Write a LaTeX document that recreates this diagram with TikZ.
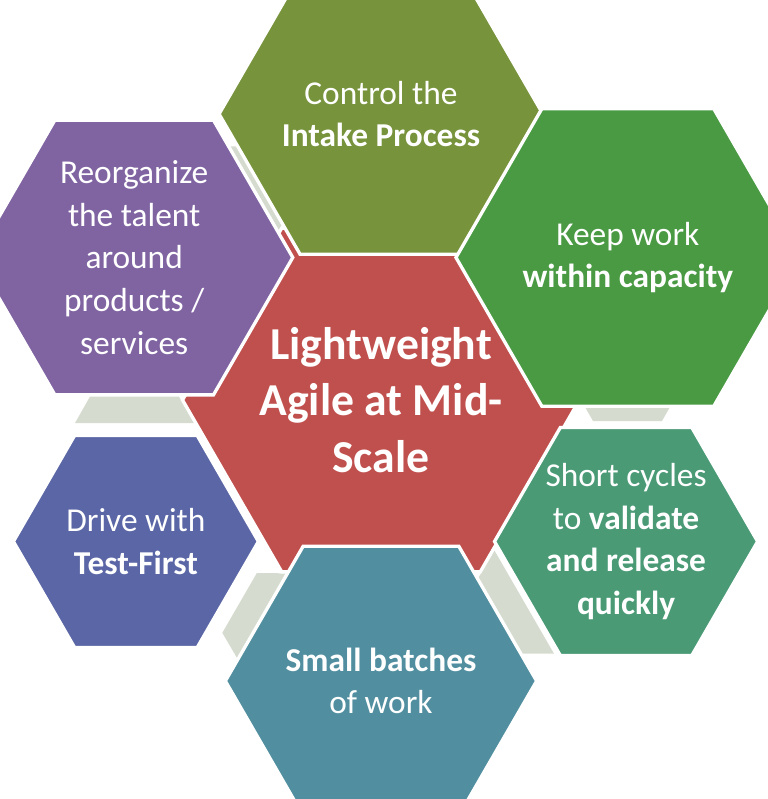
\documentclass[tikz,border=0pt]{standalone}
\usepackage{fontspec}
\setmainfont{Carlito}
\usetikzlibrary{shapes.geometric, positioning}
\definecolor{hexolive}{HTML}{77933C}
\definecolor{hexgreen}{HTML}{4A9A44}
\definecolor{hexsea}{HTML}{4A9A76}
\definecolor{hexteal}{HTML}{518FA0}
\definecolor{hexblue}{HTML}{5A66A5}
\definecolor{hexpurple}{HTML}{8064A2}
\definecolor{hexred}{HTML}{C0504D}
\definecolor{linkgrey}{HTML}{D5DBCE}
\tikzstyle{hex} = [regular polygon, regular polygon sides=6, minimum size=7.35cm, inner sep=0pt, draw=white, line width=0.1cm, text=white, align=center, font=\fontsize{28.5}{36.5}\selectfont]
\tikzstyle{core} = [hex, minimum size=8.9cm, fill=hexred, font=\fontsize{39}{48}\selectfont\bfseries]
\tikzstyle{link} = [fill=linkgrey]

\begin{document}
\begin{tikzpicture}[x=0.03cm, y=0.03cm]
\useasboundingbox (-381,-399) rectangle (387,400);

% grey ring between the outer hexagons
\foreach \a in {0,60,120,180,240,300}
  \fill [link, rotate=\a] (187,23) -- (306,23) -- (281,-21) -- (212,-21) -- cycle;

\node (lightweight) [core] at (0,0) {Lightweight\\Agile at Mid-\\Scale};
\node (intake) [hex, fill=hexolive] at (90:286) {Control the\\\textbf{Intake Process}};
\node (capacity) [hex, fill=hexgreen] at (30:285) {Keep work\\\textbf{within capacity}};
\node (cycles) [hex, fill=hexsea] at (-30:283) {Short cycles\\to \textbf{validate}\\\textbf{and release}\\\textbf{quickly}};
\node (batches) [hex, fill=hexteal] at (-90:281) {\textbf{Small batches}\\of work};
\node (testfirst) [hex, fill=hexblue] at (-150:283) {Drive with\\\textbf{Test-First}};
\node (talent) [hex, fill=hexpurple] at (150:285) {Reorganize\\the talent\\around\\products /\\services};

\end{tikzpicture}
\end{document}
